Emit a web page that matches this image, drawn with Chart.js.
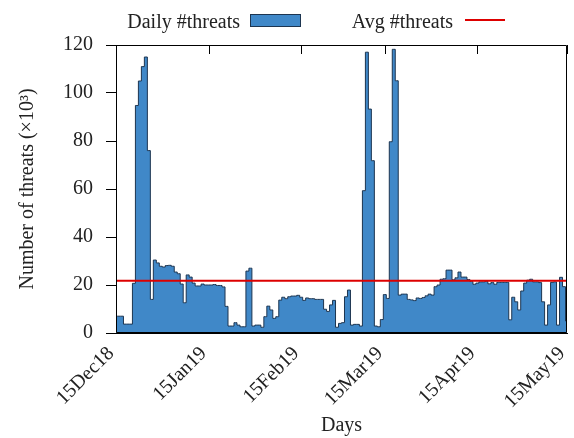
<!DOCTYPE html>
<html>
<head>
<meta charset="utf-8">
<script src="https://cdn.jsdelivr.net/npm/chart.js@4.4.1/dist/chart.umd.min.js"></script>
<style>
  html, body { margin: 0; padding: 0; background: #fff; }
  #wrap { position: relative; width: 574px; height: 438px; }
  .key-text { position: absolute; top: 11px; font: 20px 'Liberation Serif', serif; line-height: 20px; color: #222; white-space: nowrap; text-align: right; }
</style>
</head>
<body>
<div id="wrap">
  <canvas id="threats-chart" width="574" height="438"></canvas>
  <div class="key-text" style="left:0; width:240px">Daily #threats</div>
  <div style="position:absolute; left:250px; top:14px; width:49px; height:11px; background:#4088c8; border:1px solid #1d3550"></div>
  <div class="key-text" style="left:0; width:453px">Avg #threats</div>
  <div style="position:absolute; left:465px; top:19px; width:40px; height:2px; background:#dd0000"></div>
</div>
<script>
// daily threats (x10^3), one value per day starting 15Dec18
const threats = [
    7, 7, 7, 3.7, 3.7, 3.7, 20.7, 94.8, 105, 111,
    115, 76, 14, 30.4, 29.2, 27.8, 27.5, 28.1, 28.2, 27.8,
    25.4, 24.7, 20.4, 12.6, 24.2, 23.3, 20.8, 19.6, 19.6, 20.4,
    20, 20, 20, 20.2, 19.8, 19.8, 19.2, 11.1, 2.9, 2.9,
    4.3, 3.3, 2.6, 2.6, 25.8, 27, 2.9, 3.3, 3.3, 2.4,
    6.8, 11.2, 9.6, 6.1, 6.8, 13.7, 14.9, 14.3, 15.1, 15.4,
    15.4, 15.7, 14.9, 13.6, 14.6, 14.3, 14.3, 14, 14, 14,
    9.9, 9, 11.7, 13.6, 2.4, 4, 4.3, 15.1, 17.9, 3.3,
    3.6, 3.6, 2.9, 59.3, 117, 93.3, 71.8, 2.9, 2.6, 5.6,
    16, 14.4, 79.7, 118.2, 105.1, 15.8, 16.2, 16.2, 14, 13.8,
    13.5, 14.6, 14.4, 14.8, 15.5, 16.2, 15.8, 19.3, 20, 22.4,
    22.6, 26.2, 26.2, 22.2, 23, 25.4, 23.3, 23.3, 22.3, 21.5,
    20.3, 20.8, 21.3, 21.3, 21.5, 20.5, 21, 20.3, 21.1, 21.1,
    21.1, 21.1, 5.5, 14.9, 13, 9.6, 17.5, 20.8, 22, 22.4,
    21.3, 21.3, 21, 13, 3.3, 11.7, 21.1, 21.3, 3.3, 23.2,
    19.3, 5
];
const avgThreats = 21.8;

const tickDays = [0, 31, 62, 90, 121, 151];
const tickLabels = ['15Dec18', '15Jan19', '15Feb19', '15Mar19', '15Apr19', '15May19'];

Chart.defaults.font.family = "'Liberation Serif', serif";
Chart.defaults.font.size = 20;
Chart.defaults.color = '#222';

// plot frame and the small inward ticks on the top border
const framePlugin = {
    id: 'frame',
    afterDatasetsDraw(chart) {
        const { ctx, chartArea: a, scales: { x } } = chart;
        ctx.save();
        ctx.strokeStyle = '#000';
        ctx.lineWidth = 1;
        ctx.beginPath();
        ctx.rect(a.left + 0.5, a.top + 0.5, a.right - a.left - 1, a.bottom - a.top - 1);
        tickDays.forEach(d => {
            const px = Math.round(x.getPixelForValue(d)) + 0.5;
            ctx.moveTo(px, a.top);
            ctx.lineTo(px, a.top + 9);
        });
        ctx.stroke();
        ctx.restore();
    }
};

new Chart(document.getElementById('threats-chart'), {
    type: 'line',
    data: {
        datasets: [
            {
                label: 'Avg #threats',
                data: [
                    { x: tickDays[0], y: avgThreats },
                    { x: tickDays[tickDays.length - 1], y: avgThreats }
                ],
                borderColor: '#dd0000',
                borderWidth: 2,
                pointRadius: 0,
                fill: false,
                order: 0
            },
            {
                label: 'Daily #threats',
                data: threats.map((v, i) => ({ x: i, y: v })),
                stepped: 'middle',
                fill: 'origin',
                backgroundColor: '#4088c8',
                borderColor: '#1d3550',
                borderWidth: 1,
                pointRadius: 0,
                order: 1
            }
        ]
    },
    options: {
        responsive: false,
        animation: false,
        layout: { padding: { left: 0, right: 7, top: 45, bottom: 0 } },
        plugins: {
            legend: { display: false },
            tooltip: { enabled: false }
        },
        scales: {
            x: {
                type: 'linear',
                min: tickDays[0],
                max: tickDays[tickDays.length - 1],
                afterBuildTicks: scale => {
                    scale.ticks = tickDays.map(v => ({ value: v }));
                },
                afterFit: scale => {
                    scale.height = 105;
                    scale.paddingLeft = 0;
                    scale.paddingRight = 0;
                },
                ticks: {
                    autoSkip: false,
                    minRotation: 45,
                    maxRotation: 45,
                    padding: 9,
                    labelOffset: -5,
                    color: '#222',
                    callback: value => tickLabels[tickDays.indexOf(value)]
                },
                grid: { drawOnChartArea: false, drawTicks: false },
                border: { color: '#000' },
                title: {
                    display: true,
                    text: 'Days',
                    color: '#222',
                    padding: { top: 0, bottom: 0 }
                }
            },
            y: {
                min: 0,
                max: 120,
                afterFit: scale => {
                    scale.width = 116;
                    scale.paddingTop = 0;
                    scale.paddingBottom = 0;
                },
                ticks: { stepSize: 20, padding: 13, color: '#222' },
                grid: { drawOnChartArea: false, tickLength: 10, color: '#000' },
                border: { color: '#000' },
                title: {
                    display: true,
                    text: 'Number of threats (×10³)',
                    color: '#222',
                    padding: { top: 16, bottom: 0 }
                }
            }
        }
    },
    plugins: [framePlugin]
});
</script>
</body>
</html>
